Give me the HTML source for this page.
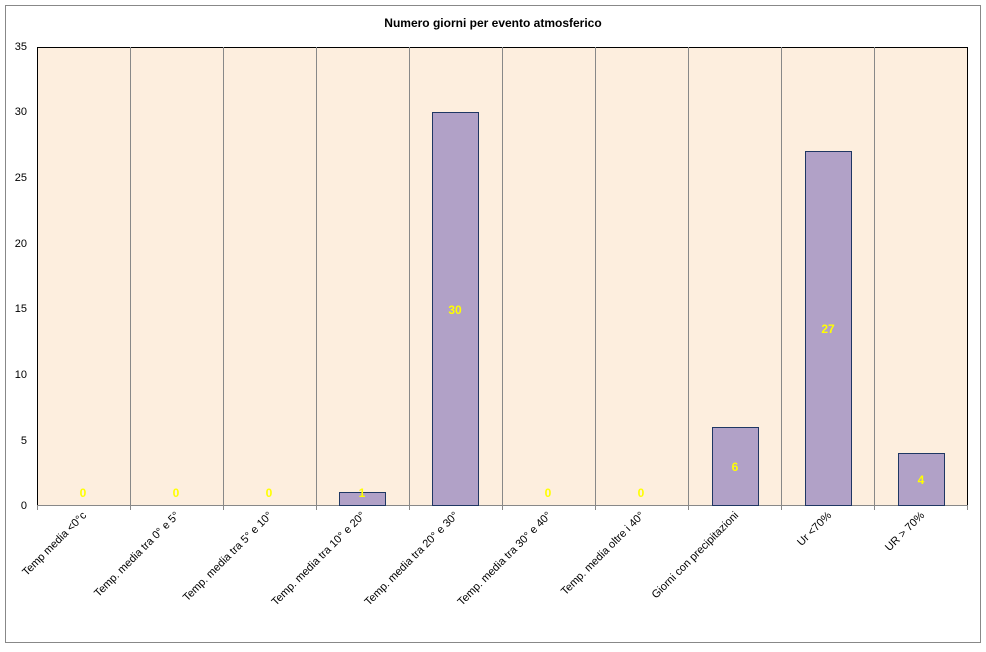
<!DOCTYPE html>
<html><head><style>html,body{margin:0;padding:0;background:#fff}</style></head><body>
<svg width="986" height="647" xmlns="http://www.w3.org/2000/svg" font-family="Liberation Sans, sans-serif">
<rect x="5.5" y="5.5" width="975" height="637" fill="#fff" stroke="#888"/>
<text x="493" y="27" text-anchor="middle" font-size="12" font-weight="bold">Numero giorni per evento atmosferico</text>
<rect x="37.5" y="47.5" width="930" height="458" fill="#fdeede" stroke="#000"/>
<g stroke="#888">
<line x1="130.5" y1="47" x2="130.5" y2="510"/><line x1="223.5" y1="47" x2="223.5" y2="510"/>
<line x1="316.5" y1="47" x2="316.5" y2="510"/><line x1="409.5" y1="47" x2="409.5" y2="510"/>
<line x1="502.5" y1="47" x2="502.5" y2="510"/><line x1="595.5" y1="47" x2="595.5" y2="510"/>
<line x1="688.5" y1="47" x2="688.5" y2="510"/><line x1="781.5" y1="47" x2="781.5" y2="510"/>
<line x1="874.5" y1="47" x2="874.5" y2="510"/><line x1="37.5" y1="505" x2="37.5" y2="510"/><line x1="967.5" y1="505" x2="967.5" y2="510"/>
<line x1="37" y1="505.5" x2="968" y2="505.5"/>
</g>
<g font-size="11" text-anchor="end">
<text x="27" y="509">0</text><text x="27" y="444">5</text><text x="27" y="378">10</text><text x="27" y="312">15</text>
<text x="27" y="247">20</text><text x="27" y="181">25</text><text x="27" y="115">30</text><text x="27" y="50">35</text>
</g>
<g fill="#b1a1c7" stroke="#1f3763">
<rect x="339.5" y="492.5" width="46" height="13"/>
<rect x="432.5" y="112.5" width="46" height="393"/>
<rect x="712.5" y="427.5" width="46" height="78"/>
<rect x="805.5" y="151.5" width="46" height="354"/>
<rect x="898.5" y="453.5" width="46" height="52"/>
</g>
<g fill="#ffff00" font-size="12" font-weight="bold" text-anchor="middle">
<text x="83" y="497">0</text><text x="176" y="497">0</text><text x="269" y="497">0</text><text x="362" y="497">1</text>
<text x="455" y="314">30</text><text x="548" y="497">0</text><text x="641" y="497">0</text><text x="735" y="471">6</text>
<text x="828" y="333">27</text><text x="921" y="484">4</text>
</g>
<g font-size="11" text-anchor="end">
<text transform="translate(87,516) rotate(-45)">Temp media &lt;0°c</text>
<text transform="translate(180,516) rotate(-45)">Temp. media tra 0° e 5°</text>
<text transform="translate(273,516) rotate(-45)">Temp. media tra 5° e 10°</text>
<text transform="translate(366,516) rotate(-45)">Temp. media tra 10° e 20°</text>
<text transform="translate(459,516) rotate(-45)">Temp. media tra 20° e 30°</text>
<text transform="translate(552,516) rotate(-45)">Temp. media tra 30° e 40°</text>
<text transform="translate(645,516) rotate(-45)">Temp. media oltre i 40°</text>
<text transform="translate(739,516) rotate(-45)">Giorni con precipitazioni</text>
<text transform="translate(832,516) rotate(-45)">Ur  &lt;70%</text>
<text transform="translate(925,516) rotate(-45)">UR &gt; 70%</text>
</g>
</svg>
</body></html>
